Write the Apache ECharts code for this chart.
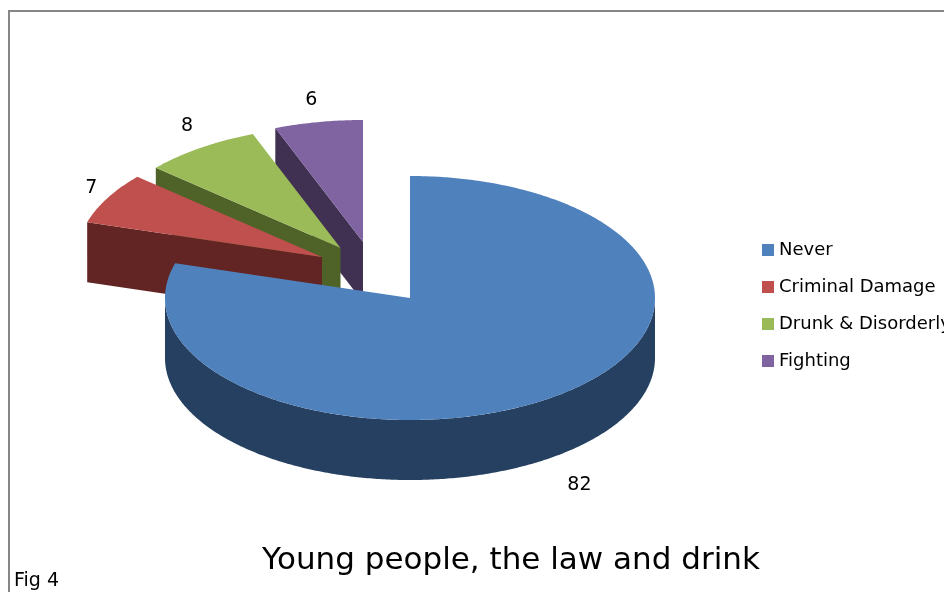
<!DOCTYPE html>
<html>
<head>
<meta charset="utf-8">
<style>html,body{margin:0;padding:0;background:#fff}#c{width:944px;height:592px}</style>
<script src="https://cdn.jsdelivr.net/npm/echarts@6/dist/echarts.min.js"></script>
</head>
<body>
<div id="c"></div>
<script>
// Data
const categories = ['Never', 'Criminal Damage', 'Drunk & Disorderly', 'Fighting'];
const values = [82, 7, 8, 6];
const chartTitle = 'Young people, the law and drink';
const figNote = 'Fig 4';

// Styles and layout
const topColors = ['#4F81BD', '#C0504D', '#9BBB59', '#8064A2'];
const sideColors = ['#254061', '#632523', '#4F6228', '#403152'];
const apexes = [[410, 298], [322, 257], [340.5, 248], [363, 242]];
const labelShift = [[23, 29], [-16, -10], [-13, -22], [-7, -22]];
const drawOrder = [40, 30, 20, 10];
const RX = 245, RY = 122, DEPTH = 60;
const FONT = '"DejaVu Sans"';

const total = values.reduce((a, b) => a + b, 0);
const startAngles = [];
values.reduce((acc, v, i) => { startAngles[i] = acc; return acc + v; }, 0);
const toAngle = v => v / total * Math.PI * 2;
const pointOn = (apex, a, dy) => [apex[0] + RX * Math.sin(a), apex[1] - RY * Math.cos(a) + (dy || 0)];

function arc(apex, a0, a1, dy) {
  const n = Math.max(2, Math.ceil(Math.abs(a1 - a0) / 0.01));
  const pts = [];
  for (let i = 0; i <= n; i++) pts.push(pointOn(apex, a0 + (a1 - a0) * i / n, dy));
  return pts;
}

function makeRender(idx) {
  return function (params, api) {
    const a0 = toAngle(startAngles[idx]);
    const a1 = a0 + toAngle(api.value(0));
    const apex = apexes[idx];
    const side = sideColors[idx], top = topColors[idx];
    const children = [];
    const poly = (points, fill) => children.push({
      type: 'polygon', shape: { points }, style: { fill }, silent: true
    });
    // radial wall that faces the viewer
    if (idx !== 0) {
      const p = pointOn(apex, a0);
      const q = pointOn(apex, a0, DEPTH);
      poly([apex, p, q, [apex[0], apex[1] + DEPTH]], side);
    }
    // curved outer wall (front half of the ellipse only)
    const fa0 = Math.max(a0, Math.PI / 2), fa1 = Math.min(a1, Math.PI * 1.5);
    if (fa1 > fa0) {
      poly(arc(apex, fa0, fa1, 0).concat(arc(apex, fa1, fa0, DEPTH)), side);
    }
    // top face
    poly([apex].concat(arc(apex, a0, a1, 0)), top);
    // value label
    const mid = (a0 + a1) / 2;
    const lp = pointOn(apex, mid, Math.cos(mid) < 0 ? DEPTH : 0);
    children.push({
      type: 'text', silent: true,
      style: {
        x: lp[0] + labelShift[idx][0], y: lp[1] + labelShift[idx][1],
        text: String(api.value(0)), fill: '#000',
        font: '19px ' + FONT, align: 'center', verticalAlign: 'middle'
      }
    });
    return { type: 'group', children };
  };
}

const chart = echarts.init(document.getElementById('c'), null, { renderer: 'canvas' });
chart.setOption({
  animation: false,
  backgroundColor: '#ffffff',
  title: {
    text: chartTitle, left: 506, top: 540, textAlign: 'center',
    textStyle: { fontFamily: FONT, fontSize: 31, fontWeight: 'normal', color: '#000' }
  },
  legend: {
    orient: 'vertical', left: 762, top: 241, icon: 'rect',
    itemWidth: 12, itemHeight: 12, itemGap: 19, padding: 0,
    data: categories, selectedMode: false,
    textStyle: { fontFamily: FONT, fontSize: 18, color: '#000' }
  },
  graphic: [
    { type: 'line', silent: true, shape: { x1: 8, y1: 11, x2: 944, y2: 11 }, style: { stroke: '#868686', lineWidth: 2 } },
    { type: 'line', silent: true, shape: { x1: 9, y1: 10, x2: 9, y2: 592 }, style: { stroke: '#868686', lineWidth: 2 } },
    { type: 'text', silent: true, left: 14, top: 572, style: { text: figNote, fill: '#000', font: '19px ' + FONT } }
  ],
  series: categories.map((name, i) => ({
    type: 'custom', name, z: drawOrder[i],
    coordinateSystem: 'none',
    itemStyle: { color: topColors[i] },
    renderItem: makeRender(i),
    data: [[values[i]]],
    encode: { value: 0 }
  }))
});
</script>
</body>
</html>
